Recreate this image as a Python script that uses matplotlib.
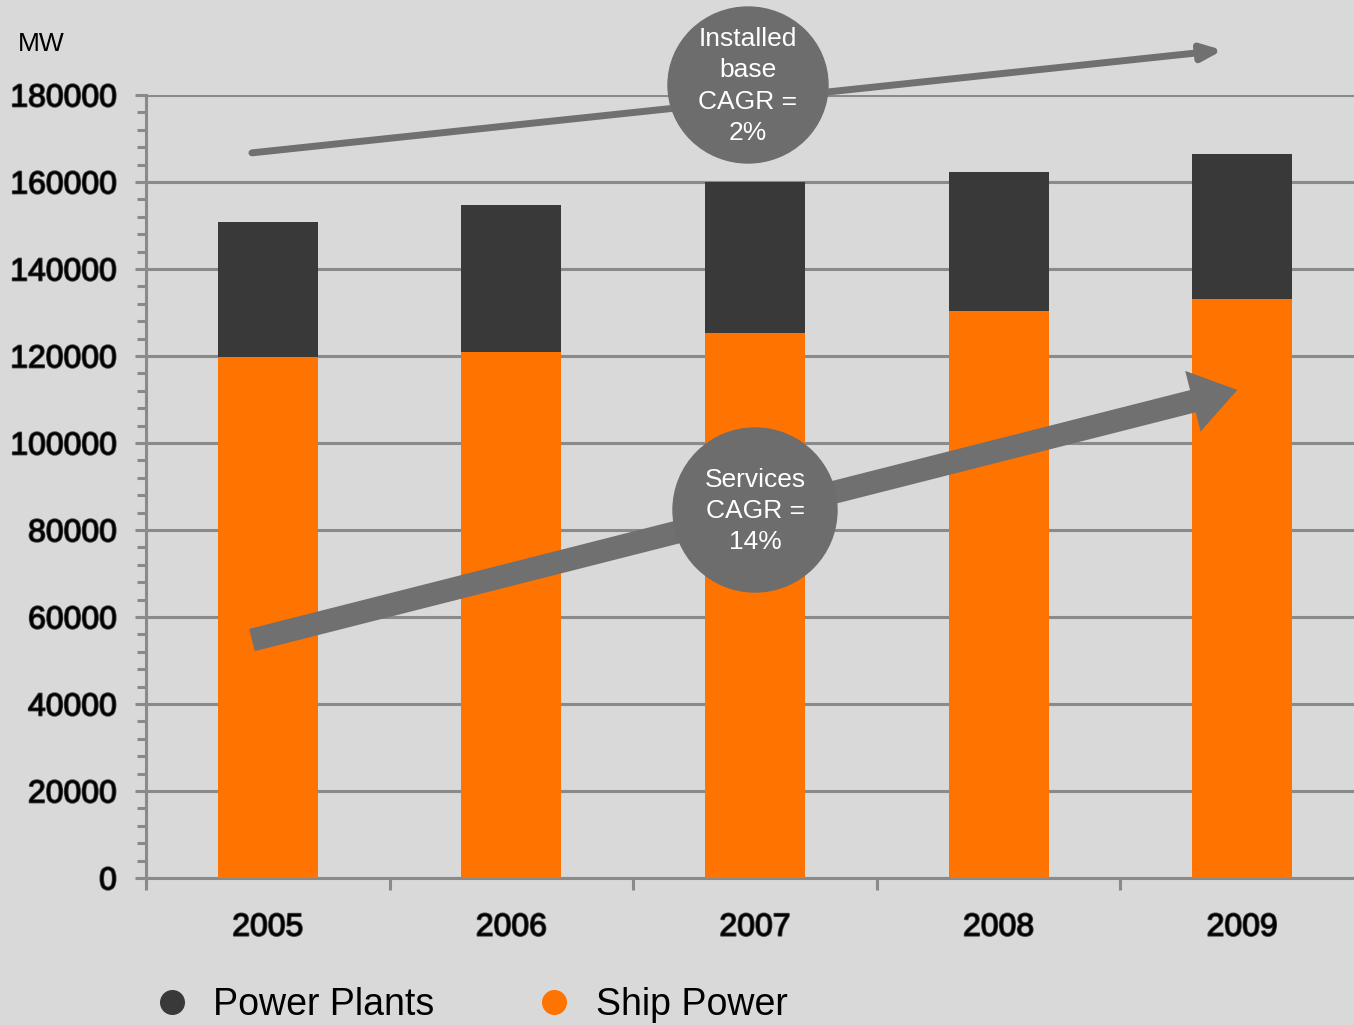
import numpy as np
import matplotlib.pyplot as plt
from matplotlib.patches import Ellipse
from matplotlib.lines import Line2D
from matplotlib.ticker import MultipleLocator, FixedLocator
import matplotlib.patheffects as pe

plt.rcParams['font.family'] = ['Liberation Sans', 'DejaVu Sans']

years = ['2005', '2006', '2007', '2008', '2009']
ship_power = [119800, 120900, 125300, 130300, 133100]
power_plants = [31000, 33800, 34700, 32000, 33300]

BG = '#d9d9d9'
ORANGE = '#ff7300'
DARK = '#393939'
GRID = '#8a8a8a'
ARROW = '#707070'

W, H = 1354, 1025
fig = plt.figure(figsize=(W / 100, H / 100), dpi=100, facecolor=BG)

def fx(px):
    return px / W

def fy(py):
    return 1 - py / H

# axes box in pixels: left 146, right 1364 (runs past the edge), top 95, bottom 878
ax = fig.add_axes([fx(146), fy(878), fx(1364 - 146), (878 - 95) / H])
ax.set_facecolor(BG)

x = np.arange(len(years))
ax.bar(x, ship_power, width=0.41, color=ORANGE, zorder=3)
ax.bar(x, power_plants, width=0.41, bottom=ship_power, color=DARK, zorder=3)

ax.set_xlim(-0.5, 4.5)
ax.set_ylim(0, 180000)

ax.yaxis.set_major_locator(MultipleLocator(20000))
ax.yaxis.set_minor_locator(MultipleLocator(4000))
ax.grid(axis='y', color=GRID, linewidth=2.2, zorder=1)
ax.set_axisbelow(True)

ax.set_xticks(x)
ax.set_xticklabels(years)
ax.xaxis.set_minor_locator(FixedLocator(np.arange(-0.5, 5, 1)))

for s in ['top', 'right']:
    ax.spines[s].set_visible(False)
for s in ['left', 'bottom']:
    ax.spines[s].set_color(GRID)
    ax.spines[s].set_linewidth(2.2)

shadow = [pe.withStroke(linewidth=1.3, foreground='#444444')]
ax.tick_params(axis='y', which='major', length=8, width=2.2, color=GRID,
               labelsize=23, pad=13)
ax.tick_params(axis='y', which='minor', length=6.5, width=2.2, color=GRID)
ax.tick_params(axis='x', which='major', length=0, labelsize=23, pad=25)
ax.tick_params(axis='x', which='minor', length=8.5, width=2.2, color=GRID)
for lab in ax.get_yticklabels() + ax.get_xticklabels():
    lab.set_path_effects(shadow)

fig.text(fx(18), fy(44), 'MW', fontsize=19, va='center', ha='left')

# trend arrows (data coordinates)
ax.annotate('', xy=(3.92, 190300), xytext=(-0.065, 166700),
            arrowprops=dict(arrowstyle='-|>,head_length=1.2,head_width=0.5',
                            color=ARROW, lw=5, shrinkA=0, shrinkB=0),
            annotation_clip=False, zorder=5)
ax.annotate('', xy=(3.98, 112200), xytext=(-0.065, 54700),
            arrowprops=dict(arrowstyle='simple,head_length=1.1,head_width=1.5,tail_width=0.55',
                            color=ARROW, lw=0, shrinkA=0, shrinkB=0,
                            mutation_scale=30),
            annotation_clip=False, zorder=5)

# CAGR bubbles
fig.add_artist(Ellipse((fx(748), fy(85)), 2 * 80 / W, 2 * 78 / H,
                       transform=fig.transFigure, color='#6d6d6d', zorder=6))
fig.text(fx(748), fy(86), 'Installed\nbase\nCAGR =\n2%', color='white',
         fontsize=19, ha='center', va='center', linespacing=1.37, zorder=7)
fig.add_artist(Ellipse((fx(755), fy(510)), 2 * 82 / W, 2 * 82 / H,
                       transform=fig.transFigure, color='#6d6d6d', zorder=6))
fig.text(fx(755), fy(511), 'Services\nCAGR =\n14%', color='white',
         fontsize=19, ha='center', va='center', linespacing=1.37, zorder=7)

handles = [Line2D([], [], marker='o', linestyle='', markersize=17, color=DARK),
           Line2D([], [], marker='o', linestyle='', markersize=17, color=ORANGE)]
fig.legend(handles, ['Power Plants', 'Ship Power'], ncol=2, frameon=False,
           loc='center left', bbox_to_anchor=(fx(153), fy(1005)),
           fontsize=27, handlelength=1.0, handletextpad=0.6,
           columnspacing=2.7, borderpad=0, borderaxespad=0)

fig.savefig('out.png', dpi=100, facecolor=BG)
